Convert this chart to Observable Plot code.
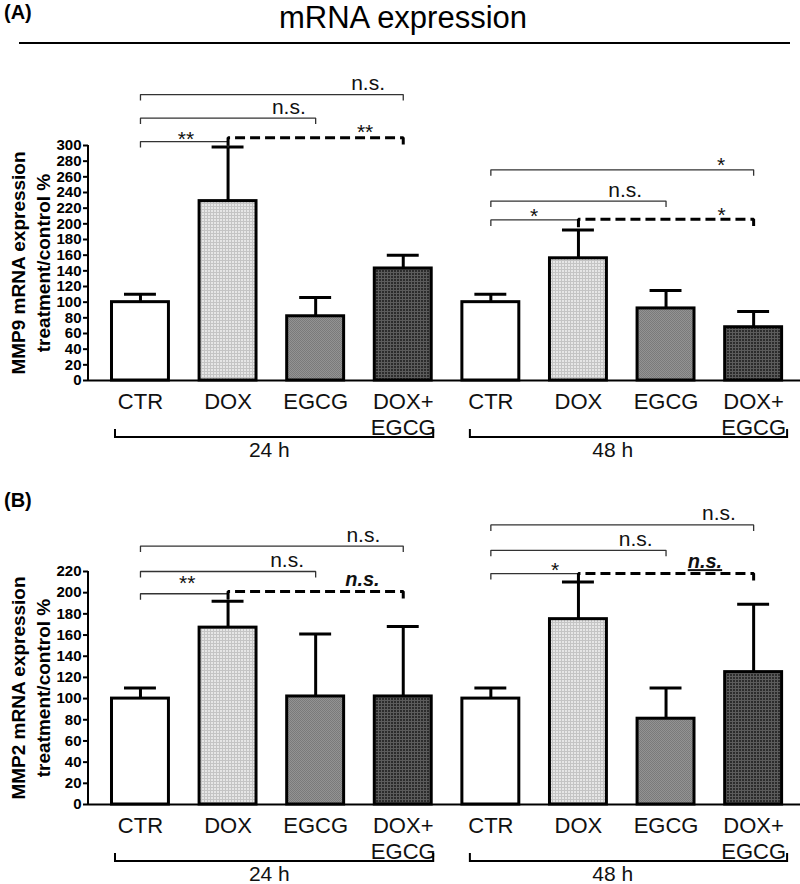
<!DOCTYPE html>
<html><head><meta charset="utf-8">
<script src="https://cdn.jsdelivr.net/npm/d3@7"></script>
<script src="https://cdn.jsdelivr.net/npm/@observablehq/plot@0.6"></script>
<style>
html,body{margin:0;padding:0;background:#fff;overflow:hidden;}
body{width:800px;height:884px;position:relative;font-family:"Liberation Sans",Arial,Helvetica,sans-serif;color:#000;}
.abs{position:absolute;white-space:nowrap;}
</style></head><body>
<svg width="0" height="0" style="position:absolute">
  <defs>
    <pattern id="pDox" width="3" height="3" patternUnits="userSpaceOnUse">
      <rect width="3" height="3" fill="#e6e6e6"/><rect width="3" height="1" fill="#c4c4c4"/><rect width="1" height="3" fill="#c4c4c4"/>
    </pattern>
    <pattern id="pEgcg" width="2" height="2" patternUnits="userSpaceOnUse">
      <rect width="2" height="2" fill="#939393"/><rect width="1" height="1" fill="#7a7a7a"/><rect x="1" y="1" width="1" height="1" fill="#7a7a7a"/>
    </pattern>
    <pattern id="pDoxEgcg" width="3" height="3" patternUnits="userSpaceOnUse">
      <rect width="3" height="3" fill="#2c2c2c"/><rect width="3" height="1" fill="#5c5c5c"/><rect width="1" height="3" fill="#5c5c5c"/>
    </pattern>
  </defs>
</svg>
<div class="abs" style="left:4px;top:1px;font-size:20px;font-weight:bold;line-height:22px">(A)</div>
<div class="abs" style="left:3px;top:0px;width:800px;text-align:center;font-size:31px;line-height:35px">mRNA expression</div>
<div class="abs" style="left:19px;top:42px;width:771px;height:2px;background:#000"></div>
<div class="abs" id="panelA" style="left:0;top:50px"></div>
<div class="abs" style="left:4px;top:489px;font-size:20px;font-weight:bold;line-height:22px">(B)</div>
<div class="abs" id="panelB" style="left:0;top:520px"></div>
<script>
// ---------------- DATA ----------------
const treatments = ["CTR", "DOX", "EGCG", "DOX+EGCG"];
const timepoints = ["24 h", "48 h"];
const tickLabels = {"CTR": "CTR", "DOX": "DOX", "EGCG": "EGCG", "DOX+EGCG": "DOX+\nEGCG"};

// order: 24 h CTR, DOX, EGCG, DOX+EGCG, 48 h CTR, DOX, EGCG, DOX+EGCG
const mmp9Mean = [100, 229, 82, 143, 100, 156, 92, 68];
const mmp9Err  = [10, 69, 24, 17, 10, 36, 23, 20];
const mmp2Mean = [100, 167, 102, 102, 100, 175, 81, 125];
const mmp2Err  = [10, 25, 59, 66, 10, 35, 29, 64];

const yTicksA = [0, 20, 40, 60, 80, 100, 120, 140, 160, 180, 200, 220, 240, 260, 280, 300];
const yTicksB = [0, 20, 40, 60, 80, 100, 120, 140, 160, 180, 200, 220];
const yTitleA = "MMP9 mRNA expression\ntreatment/control %";
const yTitleB = "MMP2 mRNA expression\ntreatment/control %";

// significance brackets (levels in data units)
const mmp9Brackets24 = [
  {from: "CTR", to: "DOX+EGCG", level: 365, label: "n.s."},
  {from: "CTR", to: "EGCG", level: 335, label: "n.s."},
  {from: "CTR", to: "DOX", level: 305, label: "**"},
  {from: "DOX", to: "DOX+EGCG", level: 310, label: "**", dashed: true}
];
const mmp9Brackets48 = [
  {from: "CTR", to: "DOX+EGCG", level: 269, label: "*"},
  {from: "CTR", to: "EGCG", level: 229, label: "n.s."},
  {from: "CTR", to: "DOX", level: 205, label: "*"},
  {from: "DOX", to: "DOX+EGCG", level: 206, label: "*", dashed: true}
];
const mmp2Brackets24 = [
  {from: "CTR", to: "DOX+EGCG", level: 244, label: "n.s."},
  {from: "CTR", to: "EGCG", level: 220, label: "n.s."},
  {from: "CTR", to: "DOX", level: 199, label: "**"},
  {from: "DOX", to: "DOX+EGCG", level: 201, label: "n.s.", dashed: true}
];
const mmp2Brackets48 = [
  {from: "CTR", to: "DOX+EGCG", level: 264, label: "n.s."},
  {from: "CTR", to: "EGCG", level: 240, label: "n.s."},
  {from: "CTR", to: "DOX", level: 218, label: "*"},
  {from: "DOX", to: "DOX+EGCG", level: 218, label: "n.s.", dashed: true}
];

// ---------------- LAYOUT / STYLE ----------------
const FONT = "'Liberation Sans', Arial, Helvetica, sans-serif";
const fills = ["#ffffff", "url(#pDox)", "url(#pEgcg)", "url(#pDoxEgcg)"];
const X_RANGE = [89.6, 803.5];
const labelFracA = [[0.868, 0.85, 0.525, 0.785], [0.878, 0.77, 0.5, 0.82]];
const labelFracB = [[0.85, 0.84, 0.54, 0.77], [0.87, 0.83, 0.74, 0.725]];
const labelDyA = [[0, 0, 1, -1.5], [-0.6, 0, 0, 0]];
const labelDyB = [[0, 0, -7, 0], [0, 0, 0, 0]];
const emphStyle = {A: [false, false], B: [true, true]}; // dashed label bold italic
const underlineDashed = {A: [false, false], B: [false, true]};
const groupInset = [[3.5, 2], [8, 5.5]];
const groupLabelDx = [-2, -9];

const keys = timepoints.flatMap(t => treatments.map(c => `${t}|${c}`));

function rowsFor(means, errs) {
  return keys.map((k, i) => ({key: k, treat: k.split("|")[1], mean: means[i], err: errs[i]}));
}

function bracketRows(b24, b48, tickSolid, tickDashed) {
  const rows = [];
  const all = [...b24.map(b => ({...b, t: timepoints[0]})), ...b48.map(b => ({...b, t: timepoints[1]}))];
  all.forEach((b, i) => {
    const tk = b.dashed ? tickDashed : tickSolid;
    const a = `${b.t}|${b.from}`, z = `${b.t}|${b.to}`;
    const d = !!b.dashed;
    rows.push({id: i, dashed: d, key: a, y: b.level - tk});
    rows.push({id: i, dashed: d, key: a, y: b.level});
    rows.push({id: i, dashed: d, key: z, y: b.level});
    rows.push({id: i, dashed: d, key: z, y: b.level - tk});
  });
  return rows;
}

function annotations(b24, b48, fracs, dys, emph, underline) {
  return (index, scales, values, dims) => {
    const g = d3.create("svg:g").attr("font-family", FONT).attr("fill", "#111");
    const x = scales.x, y = scales.y, bw = x.bandwidth();
    const cx = k => x(k) + bw / 2;
    [b24, b48].forEach((set, gi) => {
      set.forEach((b, i) => {
        const x1 = cx(`${timepoints[gi]}|${b.from}`), x2 = cx(`${timepoints[gi]}|${b.to}`);
        const lx = x1 + fracs[gi][i] * (x2 - x1);
        const isStar = b.label.startsWith("*");
        const isEmph = b.dashed && emph[gi];
        const ly = y(b.level) + (isStar ? 3.5 : (isEmph ? -5 : -4)) + dys[gi][i];
        const t = g.append("text").attr("x", lx).attr("y", ly).attr("text-anchor", "middle")
          .attr("font-size", 21).text(b.label);
        if (isEmph) t.attr("font-weight", "bold").attr("font-style", "italic").attr("font-size", 20);
        if (b.dashed && underline[gi]) t.attr("text-decoration", "underline");
      });
    });
    // y axis line
    g.append("line").attr("x1", dims.marginLeft).attr("x2", dims.marginLeft)
      .attr("y1", y(0) + 1).attr("y2", y(y.domain()[1])).attr("stroke", "#000").attr("stroke-width", 2);
    // group brackets
    const base = y(0);
    timepoints.forEach((t, gi) => {
      const xa = x(`${t}|${treatments[0]}`) + groupInset[gi][0];
      const xb = x(`${t}|${treatments[treatments.length - 1]}`) + bw + groupInset[gi][1];
      g.append("path").attr("d", `M${xa},${base + 49}V${base + 57}H${xb}V${base + 49}`)
        .attr("fill", "none").attr("stroke", "#000").attr("stroke-width", 2);
      const mid = (cx(`${t}|${treatments[1]}`) + cx(`${t}|${treatments[2]}`)) / 2 + groupLabelDx[gi];
      g.append("text").attr("x", mid).attr("y", base + 77).attr("text-anchor", "middle")
        .attr("font-size", 21).text(t);
    });
    return g.node();
  };
}

function panel({means, errs, yMax, yTicks, yTitle, b24, b48, fracs, dys, emph, underline, height, marginTop, marginBottom}) {
  const rows = rowsFor(means, errs);
  const innerH = height - marginTop - marginBottom;
  const ppu = innerH / yMax;
  const brows = bracketRows(b24, b48, 6 / ppu, 8 / ppu);
  return Plot.plot({
    width: 800, height, marginTop, marginBottom, marginLeft: 88, marginRight: 0,
    style: {fontFamily: FONT, background: "transparent", color: "#000", overflow: "visible"},
    x: {type: "band", domain: keys, range: X_RANGE, paddingInner: 0.35, paddingOuter: 0.25, round: false},
    y: {domain: [0, yMax]},
    color: {type: "ordinal", domain: treatments, range: fills},
    marks: [
      Plot.ruleX(rows, {x: "key", y1: "mean", y2: d => d.mean + d.err, stroke: "#000", strokeWidth: 3}),
      Plot.tickY(rows, {x: "key", y: d => d.mean + d.err, stroke: "#000", strokeWidth: 3, insetLeft: 12.5, insetRight: 12.5}),
      Plot.barY(rows, {x: "key", y: "mean", fill: "treat", stroke: "#000", strokeWidth: 3}),
      Plot.ruleY([0], {stroke: "#000", strokeWidth: 2}),
      Plot.axisY({ticks: yTicks, tickSize: 5, tickPadding: 2, fontSize: 15, fontWeight: "bold", strokeWidth: 2, label: null, tickFormat: d => String(d), fill: "#000"}),
      Plot.axisX({tickSize: 0, tickPadding: 10, fontSize: 22, lineHeight: 1.17, label: null, fill: "#111",
        tickFormat: k => tickLabels[k.split("|")[1]]}),
      Plot.text([yTitle], {frameAnchor: "left", rotate: -90, dx: -58.6, fontSize: 19, fontWeight: "bold",
        lineHeight: 1.3, textAnchor: "middle", lineAnchor: "middle", fill: "#000"}),
      Plot.line(brows.filter(d => !d.dashed), {x: "key", y: "y", z: "id", stroke: "#333", strokeWidth: 1.3,
        strokeLinecap: "butt", strokeLinejoin: "miter"}),
      Plot.line(brows.filter(d => d.dashed), {x: "key", y: "y", z: "id", stroke: "#000", strokeWidth: 3,
        strokeDasharray: "10,5", strokeLinecap: "butt", strokeLinejoin: "miter"}),
      annotations(b24, b48, fracs, dys, emph, underline)
    ]
  });
}

document.getElementById("panelA").append(panel({
  means: mmp9Mean, errs: mmp9Err, yMax: 300, yTicks: yTicksA, yTitle: yTitleA,
  b24: mmp9Brackets24, b48: mmp9Brackets48, fracs: labelFracA, dys: labelDyA, emph: emphStyle.A, underline: underlineDashed.A,
  height: 420, marginTop: 95, marginBottom: 90
}));
document.getElementById("panelB").append(panel({
  means: mmp2Mean, errs: mmp2Err, yMax: 220, yTicks: yTicksB, yTitle: yTitleB,
  b24: mmp2Brackets24, b48: mmp2Brackets48, fracs: labelFracB, dys: labelDyB, emph: emphStyle.B, underline: underlineDashed.B,
  height: 364, marginTop: 51, marginBottom: 80
}));
</script>
</body></html>
